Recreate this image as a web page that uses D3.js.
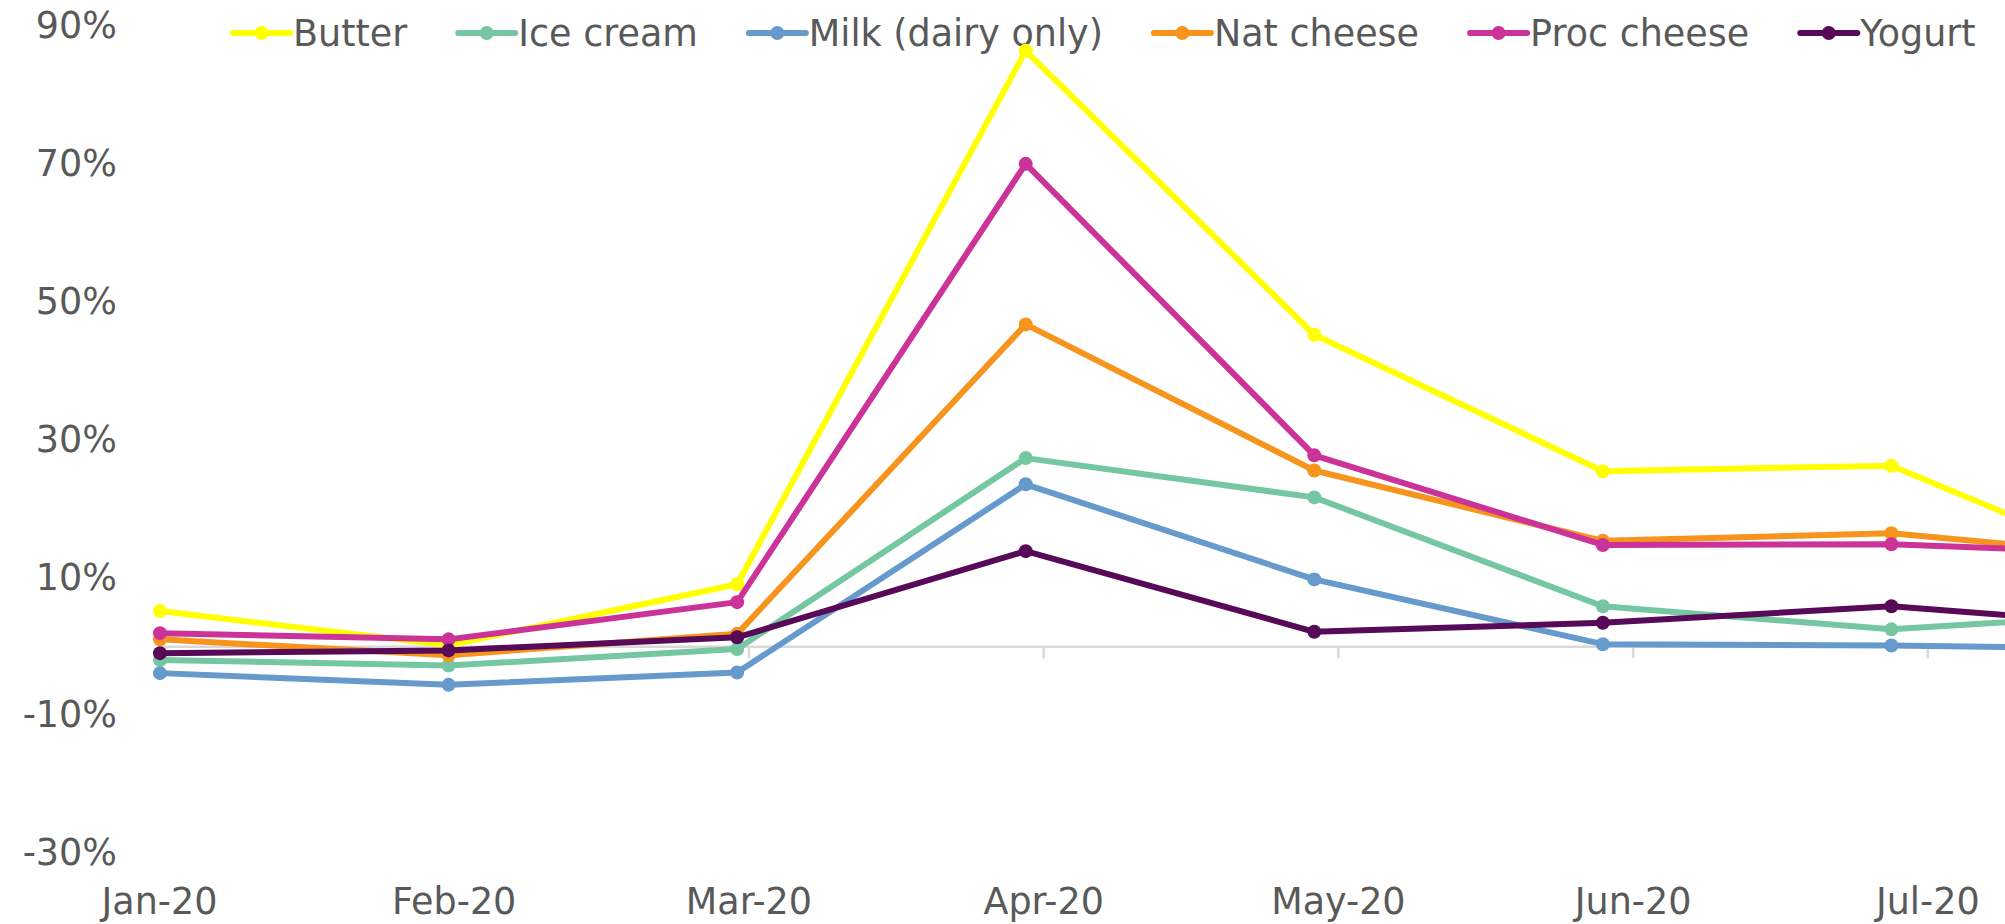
<!DOCTYPE html>
<html>
<head>
<meta charset="utf-8">
<script src="https://cdn.jsdelivr.net/npm/d3@7"></script>
<style>
  html, body { margin: 0; padding: 0; background: #ffffff; overflow: hidden; }
  svg { display: block; font-family: "DejaVu Sans", Verdana, sans-serif; }
</style>
</head>
<body>
<svg id="chart" width="2005" height="924"></svg>
<script>
// Month categories (the last one runs past the right edge of the frame)
const months = ["Jan-20", "Feb-20", "Mar-20", "Apr-20", "May-20", "Jun-20", "Jul-20", "Aug-20"];
const labelledMonths = months.slice(0, 7);

// Year-over-year change in sales, percent
const butter     = [5.1, 0.15, 9.0, 86.4, 45.2, 25.4, 26.2, 8.8];
const iceCream   = [-2.0, -2.8, -0.4, 27.3, 21.6, 5.8, 2.45, 5.1];
const milk       = [-3.9, -5.6, -3.8, 23.5, 9.7, 0.3, 0.1, -0.4];
const natCheese  = [1.0, -1.3, 1.8, 46.7, 25.5, 15.3, 16.4, 12.5];
const procCheese = [1.9, 1.0, 6.4, 70.0, 27.7, 14.7, 14.8, 13.2];
const yogurt     = [-1.0, -0.6, 1.3, 13.8, 2.1, 3.4, 5.8, 2.6];

const seriesNames = ["Butter", "Ice cream", "Milk (dairy only)", "Nat cheese", "Proc cheese", "Yogurt"];
const seriesValues = [butter, iceCream, milk, natCheese, procCheese, yogurt];
const seriesColors = ["#FFFF00", "#74C7A0", "#6699CC", "#F7941D", "#CC3399", "#570A57"];

const yTickValues = [-30, -10, 10, 30, 50, 70, 90];

const textColor = "#595959";
const fontSize = 36.5;
const strokeW = 6;
const markerR = 7;

const svg = d3.select("#chart");

const y = d3.scaleLinear().domain([-30, 90]).range([853, 26]);
// Plot positions of the monthly points
const xPoints = d3.scalePoint().domain(months).range([160, 2180]);
// Category axis ticks and labels
const xCats = d3.scalePoint().domain(months).range([159, 2222]);

// Y axis labels
const yAxis = svg.append("g")
  .attr("transform", "translate(117,0)")
  .call(d3.axisLeft(y).tickValues(yTickValues).tickSize(0).tickPadding(0)
        .tickFormat(d => d + "%"));
yAxis.select(".domain").remove();
yAxis.selectAll("text")
  .attr("fill", textColor)
  .style("font-size", fontSize + "px")
  .style("font-family", "'DejaVu Sans', Verdana, sans-serif");

// Zero line with tick marks
const zeroAxis = svg.append("g")
  .attr("transform", `translate(0,${y(0)})`)
  .call(d3.axisBottom(xCats).tickValues(labelledMonths).tickSize(12).tickSizeOuter(0).tickFormat(""));
zeroAxis.select(".domain").attr("stroke", "#D9D9D9").attr("stroke-width", 2.5);
zeroAxis.selectAll(".tick line").attr("stroke", "#D9D9D9").attr("stroke-width", 2.5);

// Category labels along the bottom
const labelAxis = svg.append("g")
  .attr("transform", "translate(0,878)")
  .call(d3.axisBottom(xCats).tickValues(labelledMonths).tickSize(0).tickPadding(0));
labelAxis.select(".domain").remove();
labelAxis.selectAll("text")
  .attr("fill", textColor)
  .attr("dy", "0em")
  .attr("y", 36)
  .style("font-size", fontSize + "px")
  .style("font-family", "'DejaVu Sans', Verdana, sans-serif");

// Legend across the top
const legend = svg.append("g");
let lx = 233;
const legendY = 33;
seriesNames.forEach((name, i) => {
  const g = legend.append("g").attr("transform", `translate(${lx},${legendY})`);
  g.append("line").attr("x1", 0).attr("x2", 57).attr("y1", 0).attr("y2", 0)
    .attr("stroke", seriesColors[i]).attr("stroke-width", strokeW).attr("stroke-linecap", "round");
  g.append("circle").attr("cx", 28.5).attr("cy", 0).attr("r", markerR).attr("fill", seriesColors[i]);
  const t = g.append("text").attr("x", 60).attr("y", 0).attr("dy", "0.36em")
    .attr("fill", textColor).style("font-size", fontSize + "px").text(name);
  lx += 60 + t.node().getComputedTextLength() + 51;
});

// Series lines and markers
const line = d3.line()
  .x((d, i) => xPoints(months[i]))
  .y(d => y(d));

seriesValues.forEach((vals, i) => {
  const g = svg.append("g");
  g.append("path").datum(vals)
    .attr("d", line)
    .attr("fill", "none")
    .attr("stroke", seriesColors[i])
    .attr("stroke-width", strokeW)
    .attr("stroke-linejoin", "round");
  g.selectAll("circle").data(vals).join("circle")
    .attr("cx", (d, j) => xPoints(months[j]))
    .attr("cy", d => y(d))
    .attr("r", markerR)
    .attr("fill", seriesColors[i]);
});
</script>
</body>
</html>
